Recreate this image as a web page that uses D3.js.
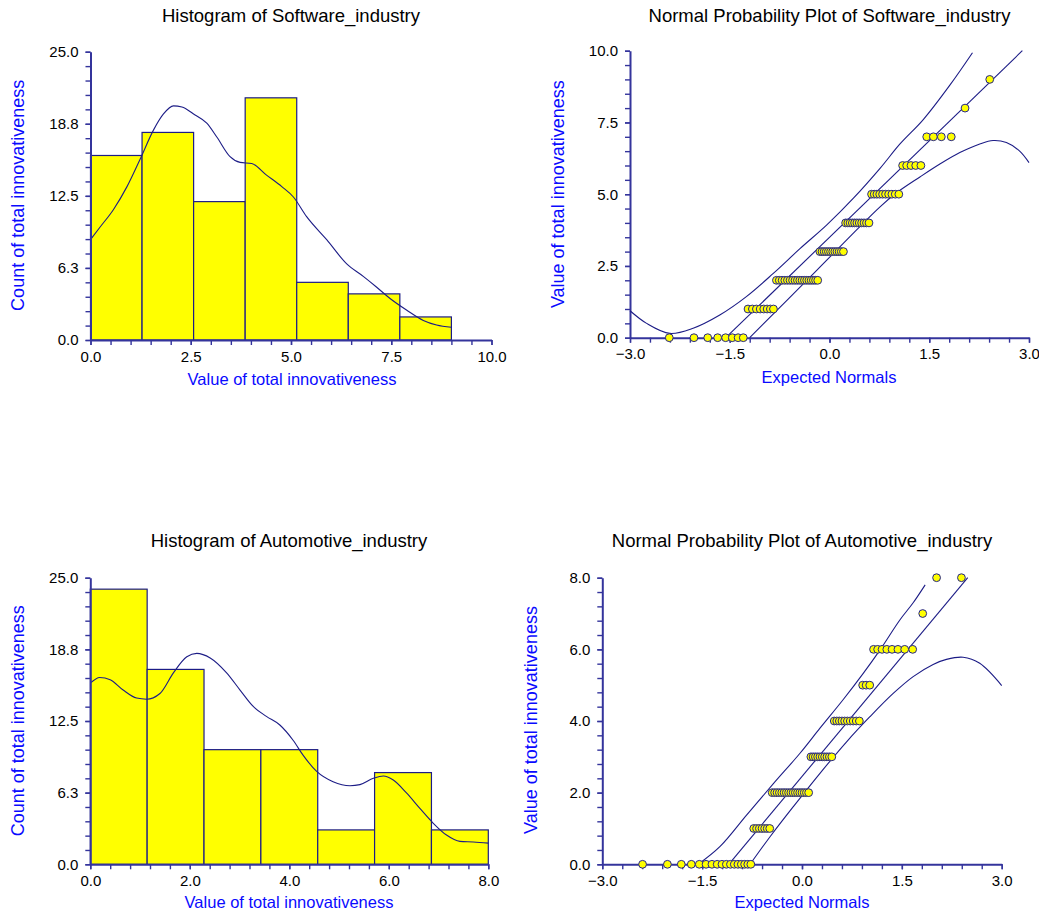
<!DOCTYPE html>
<html>
<head>
<meta charset="utf-8">
<script src="https://cdn.jsdelivr.net/npm/d3@7"></script>
<style>
  body { margin: 0; background: #fff; }
  text { font-family: Arial, "Liberation Sans", sans-serif; }
</style>
</head>
<body>
<div id="content"></div>
<script>
/* global d3 */

// ---- data ----
const softwareBinCounts = [16, 18, 12, 21, 5, 4, 2];
const softwareBinRange = [0, 9];
const automotiveBinCounts = [24, 17, 10, 10, 3, 8, 3];
const automotiveBinRange = [0, 8];

// observed values and how often each occurs (for the normal probability plots)
const softwareValues = [0, 1, 2, 3, 4, 5, 6, 7, 8, 9];
const softwareValueCounts = [8, 8, 18, 12, 11, 10, 5, 4, 1, 1];
const automotiveValues = [0, 1, 2, 3, 4, 5, 6, 7, 8];
const automotiveValueCounts = [17, 7, 17, 10, 10, 3, 8, 1, 2];

// density curves drawn over the histograms [value, count]
const softwareDensity = [[0, 8.7], [0.24, 9.8], [0.57, 11.3], [0.91, 13.3], [1.24, 15.7], [1.57, 18.2], [1.82, 19.6],
  [2.07, 20.3], [2.28, 20.2], [2.57, 19.6], [2.9, 18.8], [3.15, 17.6], [3.48, 15.9], [3.73, 15.4], [4.02, 15.3],
  [4.39, 14.3], [4.77, 13.3], [5.06, 12.4], [5.39, 10.7], [5.89, 8.7], [6.39, 6.6], [6.81, 5.5], [7.13, 4.6],
  [7.47, 3.6], [7.88, 2.6], [8.3, 1.7], [8.63, 1.3], [9.0, 1.1]];
const automotiveDensity = [[0, 15.8], [0.19, 16.3], [0.4, 16.1], [0.66, 15.2], [0.93, 14.5], [1.13, 14.4], [1.4, 14.9],
  [1.67, 16.7], [1.94, 18.1], [2.14, 18.4], [2.41, 18.0], [2.74, 16.7], [3.01, 15.2], [3.28, 13.75], [3.54, 12.9],
  [3.81, 12.15], [4.08, 10.8], [4.28, 9.5], [4.55, 8.1], [4.88, 7.2], [5.22, 6.85], [5.42, 6.95], [5.69, 7.5],
  [5.89, 7.7], [6.09, 7.35], [6.36, 6.2], [6.62, 4.9], [6.89, 3.6], [7.16, 2.55], [7.43, 2.0], [7.7, 1.95], [8.0, 1.85]];

// reference lines and confidence bands of the probability plots [expected normal, value]
const softwareRefLine = [[-1.56, 0], [2.9, 10]];
const softwareUpperBand = [[-3, 0.94], [-2.75, 0.5], [-2.4, 0.15], [-2.05, 0.33], [-1.65, 0.79], [-1.25, 1.43],
  [-0.845, 2.24], [-0.44, 3.11], [-0.04, 3.93], [0.36, 4.86], [0.76, 5.9], [1.06, 6.75], [1.41, 7.6], [1.81, 8.8], [2.15, 9.93]];
const softwareLowerBand = [[-1.2, 0], [-0.2, 2.33], [0.76, 4.56], [1.01, 5.05], [1.36, 5.6], [1.66, 6.05], [1.96, 6.45],
  [2.26, 6.75], [2.46, 6.87], [2.66, 6.8], [2.86, 6.5], [3.0, 6.1]];
const automotiveRefLine = [[-1.1, 0], [2.49, 8]];
const automotiveUpperBand = [[-1.56, 0], [-1.23, 0.5], [-0.83, 1.38], [-0.43, 2.25], [-0.03, 3.1], [0.27, 3.8],
  [0.62, 4.6], [0.92, 5.33], [1.17, 5.98], [1.47, 6.82], [1.67, 7.3], [1.85, 7.8]];
const automotiveLowerBand = [[-0.78, 0], [-0.48, 0.77], [-0.13, 1.61], [0.27, 2.54], [0.67, 3.42], [1.02, 4.12],
  [1.37, 4.77], [1.67, 5.24], [1.97, 5.58], [2.17, 5.72], [2.42, 5.78], [2.67, 5.61], [3.0, 4.99]];

// axis ticks
const countTicks = [0, 6.25, 12.5, 18.75, 25];
const softwareValueTicks = [0, 2.5, 5, 7.5, 10];
const automotiveValueTicks = [0, 2, 4, 6, 8];
const normalTicks = [-3, -1.5, 0, 1.5, 3];

const axisColor = '#34349c';
const lineColor = '#1c1c86';
const labelBlue = '#0a0aff';

const svg = d3.select('#content').append('svg')
  .attr('width', 1039).attr('height', 913)
  .style('background', 'white');

// inverse standard normal CDF (Acklam)
function qnorm (p) {
  const a = [-39.69683028665376, 220.9460984245205, -275.9285104469687, 138.3577518672690, -30.66479806614716, 2.506628277459239];
  const b = [-54.47609879822406, 161.5858368580409, -155.6989798598866, 66.80131188771972, -13.28068155288572];
  const c = [-0.007784894002430293, -0.3223964580411365, -2.400758277161838, -2.549732539343734, 4.374664141464968, 2.938163982698783];
  const d = [0.007784695709041462, 0.3224671290700398, 2.445134137142996, 3.754408661907416];
  const plow = 0.02425;
  if (p < plow) {
    const q = Math.sqrt(-2 * Math.log(p));
    return (((((c[0] * q + c[1]) * q + c[2]) * q + c[3]) * q + c[4]) * q + c[5]) / ((((d[0] * q + d[1]) * q + d[2]) * q + d[3]) * q + 1);
  }
  if (p <= 1 - plow) {
    const q = p - 0.5, r = q * q;
    return (((((a[0] * r + a[1]) * r + a[2]) * r + a[3]) * r + a[4]) * r + a[5]) * q / (((((b[0] * r + b[1]) * r + b[2]) * r + b[3]) * r + b[4]) * r + 1);
  }
  const q = Math.sqrt(-2 * Math.log(1 - p));
  return -(((((c[0] * q + c[1]) * q + c[2]) * q + c[3]) * q + c[4]) * q + c[5]) / ((((d[0] * q + d[1]) * q + d[2]) * q + d[3]) * q + 1);
}

function drawAxes (x, y, xMajor, xMinorStep, yMajor, yMinorStep, fmtX, fmtY) {
  const x0 = x.range()[0], y0 = y.range()[0];
  const xd = x.domain(), yd = y.domain();
  const xMinor = d3.range(xd[0], xd[1] + xMinorStep / 2, xMinorStep);
  const yMinor = d3.range(yd[0], yd[1] + yMinorStep / 2, yMinorStep);
  const parts = [
    svg.append('g').attr('transform', `translate(0,${y0})`)
      .call(d3.axisBottom(x).tickValues(xMinor).tickSize(5).tickSizeOuter(0).tickFormat('')),
    svg.append('g').attr('transform', `translate(${x0},0)`)
      .call(d3.axisLeft(y).tickValues(yMinor).tickSize(5).tickSizeOuter(0).tickFormat('')),
    svg.append('g').attr('transform', `translate(0,${y0})`)
      .call(d3.axisBottom(x).tickValues(xMajor).tickSize(5).tickPadding(6).tickFormat(fmtX)),
    svg.append('g').attr('transform', `translate(${x0},0)`)
      .call(d3.axisLeft(y).tickValues(yMajor).tickSize(5).tickPadding(7).tickFormat(fmtY))
  ];
  parts[2].select('.domain').remove();
  parts[3].select('.domain').remove();
  parts.forEach(p => {
    p.attr('font-size', null).attr('font-family', null);
    p.select('.domain').attr('stroke', axisColor).attr('stroke-width', 2);
    p.selectAll('.tick line').attr('stroke', axisColor).attr('stroke-width', 1.4);
    p.selectAll('.tick text').style('font-size', '15px').attr('fill', '#000');
  });
}

function drawLabels (title, titleX, titleY, xLabel, xLabelX, xLabelY, yLabel, yLabelX, yLabelY) {
  svg.append('text').attr('x', titleX).attr('y', titleY).attr('text-anchor', 'middle')
    .style('font-size', '18.5px').attr('fill', '#000').text(title);
  svg.append('text').attr('x', xLabelX).attr('y', xLabelY).attr('text-anchor', 'middle')
    .style('font-size', '16.5px').attr('fill', labelBlue).text(xLabel);
  svg.append('text').attr('transform', `translate(${yLabelX},${yLabelY}) rotate(-90)`).attr('text-anchor', 'middle')
    .style('font-size', '18px').attr('fill', labelBlue).text(yLabel);
}

// 1. HISTOGRAM
function histogram (cfg) {
  const x = d3.scaleLinear().domain(cfg.xDomain).range(cfg.xRange);
  const y = d3.scaleLinear().domain([0, 25]).range(cfg.yRange);
  const w = (cfg.binRange[1] - cfg.binRange[0]) / cfg.counts.length;
  const bins = cfg.counts.map((c, i) => ({ x0: cfg.binRange[0] + i * w, x1: cfg.binRange[0] + (i + 1) * w, c }));

  svg.append('g').selectAll('rect').data(bins).join('rect')
    .attr('x', d => x(d.x0)).attr('y', d => y(d.c))
    .attr('width', d => x(d.x1) - x(d.x0)).attr('height', d => y(0) - y(d.c))
    .attr('fill', '#ffff00').attr('stroke', lineColor).attr('stroke-width', 1.2);

  svg.append('path').datum(cfg.density)
    .attr('d', d3.line().x(d => x(d[0])).y(d => y(d[1])).curve(d3.curveMonotoneX))
    .attr('fill', 'none').attr('stroke', lineColor).attr('stroke-width', 1.1);

  drawAxes(x, y, cfg.xTicks, cfg.xMinorStep, countTicks, 1.25, d3.format('.1f'), d3.format('.1f'));
  drawLabels(cfg.title, cfg.titleX, cfg.titleY, 'Value of total innovativeness', cfg.xLabelX, cfg.xLabelY,
    'Count of total innovativeness', cfg.yLabelX, cfg.yLabelY);
}

// 2. NORMAL PROBABILITY PLOT
function probPlot (cfg) {
  const x = d3.scaleLinear().domain([-3, 3]).range(cfg.xRange);
  const y = d3.scaleLinear().domain(cfg.yDomain).range(cfg.yRange);

  const sorted = [];
  cfg.values.forEach((v, i) => { for (let k = 0; k < cfg.counts[i]; k++) sorted.push(v); });
  const n = sorted.length;
  const points = sorted.map((v, i) => ({ z: qnorm((i + 1 - 0.375) / (n + 0.25)), v }));

  const line = d3.line().x(d => x(d[0])).y(d => y(d[1]));
  const smooth = d3.line().x(d => x(d[0])).y(d => y(d[1])).curve(d3.curveCatmullRom);

  drawAxes(x, y, normalTicks, 0.3, cfg.yTicks, cfg.yMinorStep, d3.format('.1f'), d3.format('.1f'));

  [[cfg.upper, smooth], [cfg.lower, smooth], [cfg.ref, line]].forEach(([d, gen]) => {
    svg.append('path').datum(d).attr('d', gen)
      .attr('fill', 'none').attr('stroke', lineColor).attr('stroke-width', 1.1);
  });

  svg.append('g').selectAll('circle').data(points).join('circle')
    .attr('cx', d => x(d.z)).attr('cy', d => y(d.v)).attr('r', 3.9)
    .attr('fill', '#ffff00').attr('stroke', '#24248c').attr('stroke-width', 1);

  drawLabels(cfg.title, cfg.titleX, cfg.titleY, 'Expected Normals', cfg.xLabelX, cfg.xLabelY,
    'Value of total innovativeness', cfg.yLabelX, cfg.yLabelY);
}

histogram({
  title: 'Histogram of Software_industry', titleX: 291, titleY: 21.5,
  counts: softwareBinCounts, binRange: softwareBinRange, density: softwareDensity,
  xDomain: [0, 10], xTicks: softwareValueTicks, xMinorStep: 0.5,
  xRange: [90.5, 491.5], yRange: [340, 51.7],
  xLabelX: 292, xLabelY: 385, yLabelX: 24.3, yLabelY: 195.3
});

probPlot({
  title: 'Normal Probability Plot of Software_industry', titleX: 829.5, titleY: 21.5,
  values: softwareValues, counts: softwareValueCounts,
  ref: softwareRefLine, upper: softwareUpperBand, lower: softwareLowerBand,
  yDomain: [0, 10], yTicks: [0, 2.5, 5, 7.5, 10], yMinorStep: 0.5,
  xRange: [630, 1029], yRange: [337.7, 50.7],
  xLabelX: 829, xLabelY: 383, yLabelX: 564, yLabelY: 194.2
});

histogram({
  title: 'Histogram of Automotive_industry', titleX: 289, titleY: 547,
  counts: automotiveBinCounts, binRange: automotiveBinRange, density: automotiveDensity,
  xDomain: [0, 8], xTicks: automotiveValueTicks, xMinorStep: 0.4,
  xRange: [90.3, 488.3], yRange: [864.3, 577.7],
  xLabelX: 289, xLabelY: 908, yLabelX: 24.3, yLabelY: 720.7
});

probPlot({
  title: 'Normal Probability Plot of Automotive_industry', titleX: 802, titleY: 547,
  values: automotiveValues, counts: automotiveValueCounts,
  ref: automotiveRefLine, upper: automotiveUpperBand, lower: automotiveLowerBand,
  yDomain: [0, 8], yTicks: [0, 2, 4, 6, 8], yMinorStep: 0.4,
  xRange: [602.3, 1001.7], yRange: [864.3, 577.7],
  xLabelX: 802, xLabelY: 908, yLabelX: 536.5, yLabelY: 720
});
</script>
</body>
</html>
